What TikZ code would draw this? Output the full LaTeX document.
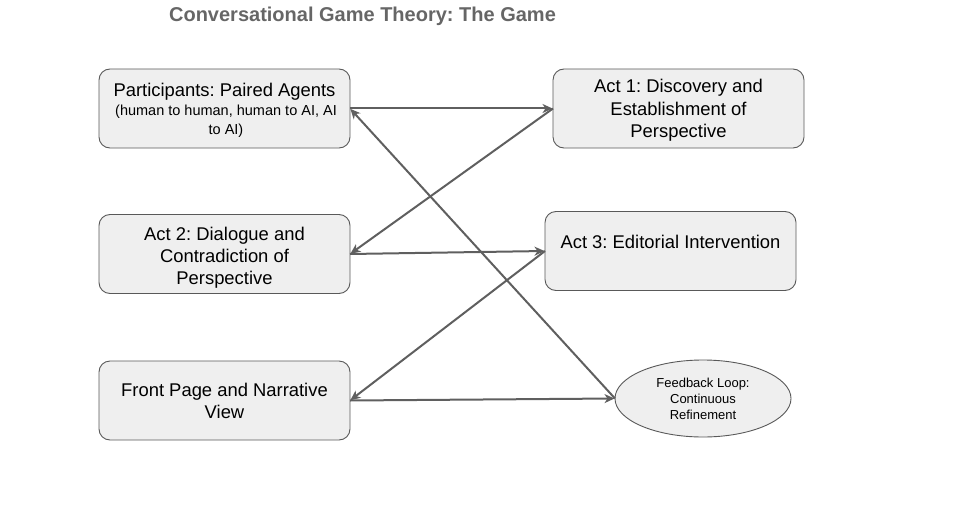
\documentclass[tikz,border=0pt]{standalone}
\usepackage{fontspec}
\setmainfont{Liberation Sans}
\usetikzlibrary{shapes.geometric,arrows.meta}
\frenchspacing
\definecolor{boxfill}{HTML}{EFEFEF}
\definecolor{boxline}{HTML}{595959}
\definecolor{arrowcol}{HTML}{5F5F5F}
\definecolor{titlecol}{HTML}{666666}
\tikzset{
  box/.style={draw=boxline, fill=boxfill, line width=0.9pt, rounded corners=11pt,
    minimum width=251pt, minimum height=79pt, inner sep=0pt, outer sep=0pt},
  oval/.style={draw=boxline, fill=boxfill, line width=0.9pt, ellipse,
    minimum width=176pt, minimum height=77pt, inner sep=0pt, outer sep=0pt},
  bigtxt/.style={font=\frenchspacing\fontsize{18.4}{22}\selectfont, align=center, inner sep=0pt, anchor=base, text=black},
  subtxt/.style={font=\frenchspacing\fontsize{14.5}{19}\selectfont, align=center, inner sep=0pt, anchor=base, text=black},
  smalltxt/.style={font=\frenchspacing\fontsize{13}{16}\selectfont, align=center, inner sep=0pt, anchor=base, text=black},
  conn/.style={draw=arrowcol, line width=2pt, -{Stealth[length=10pt,width=9pt,inset=3pt]}, shorten >=0.5pt},
}
\begin{document}
\begin{tikzpicture}[x=1pt,y=-1pt]
\useasboundingbox (0,0) rectangle (960,508);
% title
\node[font=\frenchspacing\bfseries\fontsize{20}{24}\selectfont, text=titlecol, anchor=base, inner sep=0pt] (title) at (362.5,22) {Conversational Game Theory: The Game};
% boxes
\node[box] (part) at (224.5,108.5) {};
\node[box] (act1) at (678.5,108.5) {};
\node[box] (act2) at (224.5,254) {};
\node[box] (act3) at (670.5,251) {};
\node[box] (front) at (224.5,400.5) {};
\node[oval] (fb) at (703,398.5) {};
% texts (base anchor = baseline of the last line)
\node[bigtxt] (partT) at (224.5,96) {Participants: Paired Agents};
\node[subtxt] (partS) at (226,134) {(human to human, human to AI, AI\\to AI)};
\node[bigtxt] (act1T) at (678.5,137) {Act 1: Discovery and\\Establishment of\\Perspective};
\node[bigtxt] (act2T) at (224.5,284) {Act 2: Dialogue and\\Contradiction of\\Perspective};
\node[bigtxt] (act3T) at (670.5,248) {Act 3: Editorial Intervention};
\node[bigtxt] (frontT) at (224.5,418) {Front Page and Narrative\\View};
\node[smalltxt] (fbT) at (703,419) {Feedback Loop:\\Continuous\\Refinement};
% connectors
\draw[conn] (part.east) -- (act1.west);
\draw[conn] (act1.west) -- (act2.east);
\draw[conn] (act2.east) -- (act3.west);
\draw[conn] (act3.west) -- (front.east);
\draw[conn] (front.east) -- (fb.west);
\draw[conn] (fb.west) -- (part.east);
\end{tikzpicture}
\end{document}
